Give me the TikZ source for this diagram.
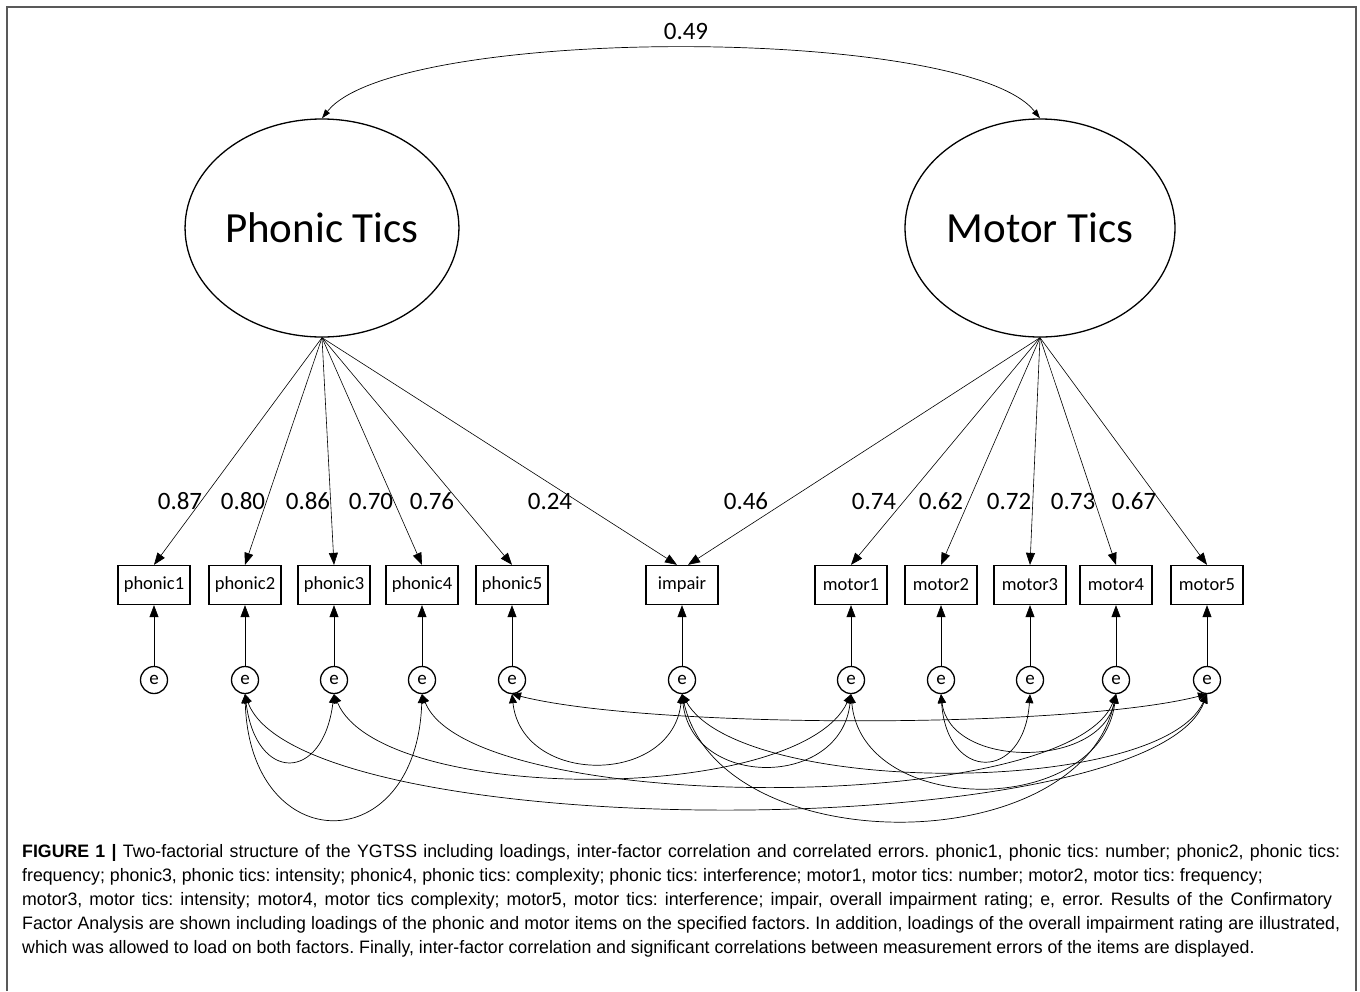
\documentclass[tikz,border=0pt]{standalone}
\usepackage{fontspec}
\setmainfont{Carlito}
\newfontfamily\capfont[FakeStretch=0.985]{Liberation Sans}
\usetikzlibrary{shapes.geometric,arrows.meta}
\frenchspacing
\begin{document}
\begin{tikzpicture}[x=1pt,y=-1pt,
  factor/.style={draw, ellipse, line width=1.3pt, minimum width=270pt, minimum height=218pt, inner sep=0pt, font=\fontsize{43}{50}\selectfont},
  obs/.style={draw, rectangle, line width=1.3pt, minimum width=72pt, minimum height=39pt, inner sep=2pt, font=\fontsize{18.5}{20}\selectfont},
  err/.style={draw, circle, line width=1.3pt, minimum size=27pt, inner sep=0pt, font=\fontsize{19}{20}\selectfont},
  load/.style={line width=0.6pt, -{Triangle[length=12pt,width=9pt]}},
  cov/.style={line width=0.7pt, {Triangle[length=9pt,width=8pt]}-{Triangle[length=9pt,width=8pt]}},
  corr/.style={line width=0.7pt, {Triangle[length=9pt,width=6pt]}-{Triangle[length=9pt,width=6pt]}},
  lab/.style={font=\fontsize{25}{27}\selectfont, inner sep=0pt, anchor=base},
  captext/.style={anchor=base west, inner sep=0pt, font=\capfont\fontsize{18}{22}\selectfont}
]
\useasboundingbox (0,0) rectangle (1360,991);
\draw[line width=1.3pt, gray!70!black] (7,991) -- (7,7) -- (1356,7) -- (1356,991);

% factors
\node[factor] (PT) at (322,228) {Phonic Tics};
\node[factor] (MT) at (1040,228) {Motor Tics};
\draw[corr] (PT.north) .. controls (395,25) and (967,25) .. (MT.north);
\node[lab] (r) at (686,39) {0.49};

% observed
\node[obs] (p1) at (154,585) {phonic1};
\node[obs] (p2) at (245,585) {phonic2};
\node[obs] (p3) at (334,585) {phonic3};
\node[obs] (p4) at (422,585) {phonic4};
\node[obs] (p5) at (512,585) {phonic5};
\node[obs] (imp) at (682,585) {impair};
\node[obs] (m1) at (851,585) {motor1};
\node[obs] (m2) at (941,585) {motor2};
\node[obs] (m3) at (1030,585) {motor3};
\node[obs] (m4) at (1116,585) {motor4};
\node[obs] (m5) at (1207,585) {motor5};

% errors
\foreach \n/\x in {1/154,2/245,3/334,4/422,5/512,i/682,6/851,7/941,8/1030,9/1116,10/1207}{
  \node[err] (e\n) at (\x,680) {e};
}
\foreach \n/\b in {1/p1,2/p2,3/p3,4/p4,5/p5,i/imp,6/m1,7/m2,8/m3,9/m4,10/m5}{
  \draw[load] (e\n) -- (\b);
}

% loadings
\draw[load] (PT.south) -- (p1.north);
\draw[load] (PT.south) -- (p2.north);
\draw[load] (PT.south) -- (p3.north);
\draw[load] (PT.south) -- (p4.north);
\draw[load] (PT.south) -- (p5.north);
\draw[load] (PT.south) -- ([xshift=-5pt]imp.north);
\draw[load] (MT.south) -- ([xshift=6pt]imp.north);
\draw[load] (MT.south) -- (m1.north);
\draw[load] (MT.south) -- (m2.north);
\draw[load] (MT.south) -- (m3.north);
\draw[load] (MT.south) -- (m4.north);
\draw[load] (MT.south) -- (m5.north);

\node[lab] (l1) at (180,509) {0.87};
\node[lab] (l2) at (243,509) {0.80};
\node[lab] (l3) at (308,509) {0.86};
\node[lab] (l4) at (371,509) {0.70};
\node[lab] (l5) at (432,509) {0.76};
\node[lab] (l6) at (550,509) {0.24};
\node[lab] (l7) at (746,509) {0.46};
\node[lab] (l8) at (874,509) {0.74};
\node[lab] (l9) at (941,509) {0.62};
\node[lab] (l10) at (1009,509) {0.72};
\node[lab] (l11) at (1073,509) {0.73};
\node[lab] (l12) at (1134,509) {0.67};

% correlated errors
\draw[cov] (e2.south) .. controls (256,783) and (323,783) .. (e3.south);
\draw[cov] (e2.south) .. controls (250,860) and (417,860) .. (e4.south);
\draw[cov] (e2.south) .. controls (300,846) and (1150,846) .. (e10.south);
\draw[cov] (e3.south) .. controls (380,805) and (800,805) .. (e6.south);
\draw[cov] (e4.south) .. controls (470,816) and (1070,816) .. (e9.south);
\draw[cov] (e5.south) .. controls (522,786) and (672,786) .. (ei.south);
\draw[cov] (e5.south) .. controls (650,729) and (1070,729) .. (e10.south);
\draw[cov] (ei.south) .. controls (692,789) and (841,789) .. (e6.south);
\draw[cov] (ei.south) .. controls (720,862) and (1080,862) .. (e9.south);
\draw[cov] (ei.south) .. controls (740,797) and (1160,797) .. (e10.south);
\draw[cov] (e6.south) .. controls (862,818) and (1100,818) .. (e9.south);
\draw[cov] (e7.south) .. controls (947,782) and (1024,782) .. (e8.south);
\draw[cov] (e7.south) .. controls (950,769) and (1100,769) .. (e9.south);

% caption
\node[captext] (c1) at (22,857) {\makebox[1318pt][s]{\textbf{FIGURE 1 |} Two-factorial structure of the YGTSS including loadings, inter-factor correlation and correlated errors. phonic1, phonic tics: number; phonic2, phonic tics:}};
\node[captext] (c2) at (22,881) {frequency; phonic3, phonic tics: intensity; phonic4, phonic tics: complexity; phonic tics: interference; motor1, motor tics: number; motor2, motor tics: frequency;};
\node[captext] (c3) at (22,905) {\makebox[1310pt][s]{motor3, motor tics: intensity; motor4, motor tics complexity; motor5, motor tics: interference; impair, overall impairment rating; e, error. Results of the Confirmatory}};
\node[captext] (c4) at (22,929) {\makebox[1318pt][s]{Factor Analysis are shown including loadings of the phonic and motor items on the specified factors. In addition, loadings of the overall impairment rating are illustrated,}};
\node[captext] (c5) at (22,953) {which was allowed to load on both factors. Finally, inter-factor correlation and significant correlations between measurement errors of the items are displayed.};
\end{tikzpicture}
\end{document}
